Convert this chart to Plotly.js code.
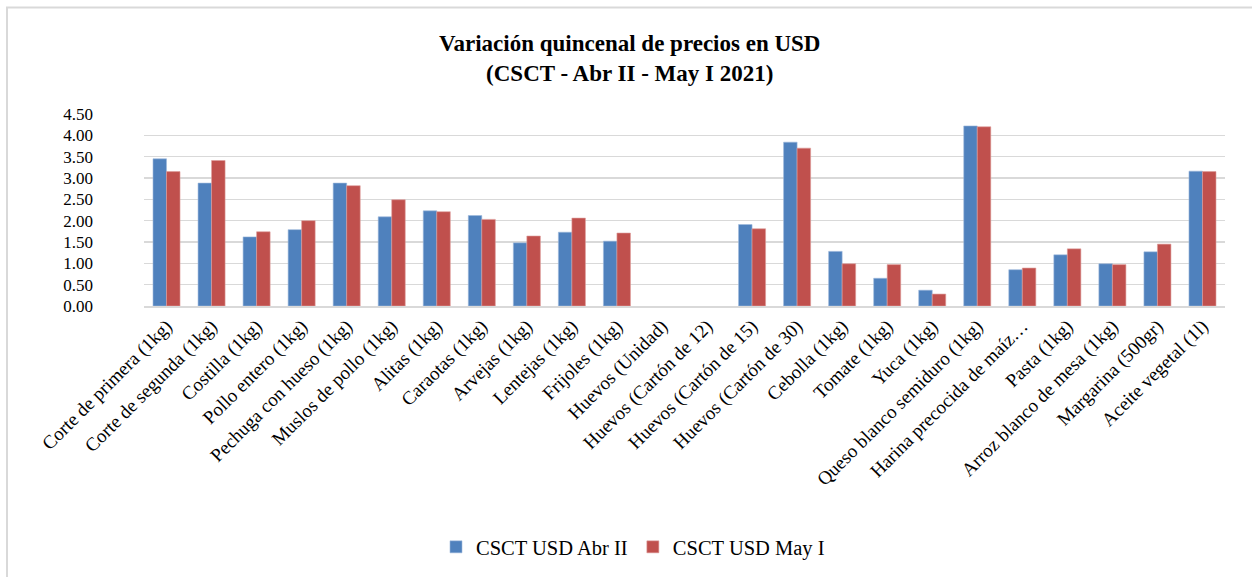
<!DOCTYPE html>
<html>
<head>
<meta charset="utf-8">
<script src="https://cdn.plot.ly/plotly-3.0.1.min.js"></script>
<style>html,body{margin:0;padding:0;background:#fff;overflow:hidden;}#chart{width:1252px;height:577px;}</style>
</head>
<body>
<div id="chart"></div>
<script>
const categories = [
  "Corte de primera (1kg)", "Corte de segunda (1kg)", "Costilla (1kg)", "Pollo entero (1kg)",
  "Pechuga con hueso (1kg)", "Muslos de pollo (1kg)", "Alitas (1kg)", "Caraotas (1kg)",
  "Arvejas (1kg)", "Lentejas (1kg)", "Frijoles (1kg)", "Huevos (Unidad)",
  "Huevos (Cartón de 12)", "Huevos (Cartón de 15)", "Huevos (Cartón de 30)", "Cebolla (1kg)",
  "Tomate (1kg)", "Yuca (1kg)", "Queso blanco semiduro (1kg)", "Harina precocida de maíz…",
  "Pasta (1kg)", "Arroz blanco de mesa (1kg)", "Margarina (500gr)", "Aceite vegetal (1l)"
];
const abrII = [3.45, 2.88, 1.62, 1.79, 2.88, 2.09, 2.23, 2.12, 1.48, 1.73, 1.52, null,
               null, 1.91, 3.84, 1.28, 0.65, 0.37, 4.22, 0.85, 1.20, 0.99, 1.27, 3.16];
const mayI  = [3.15, 3.41, 1.74, 2.00, 2.82, 2.49, 2.21, 2.03, 1.64, 2.06, 1.71, null,
               null, 1.81, 3.70, 0.99, 0.97, 0.28, 4.20, 0.89, 1.34, 0.97, 1.45, 3.15];
const seriesNames = ["CSCT USD Abr II", "CSCT USD May I"];
const yTicks = [0, 0.5, 1, 1.5, 2, 2.5, 3, 3.5, 4, 4.5];

const font = "Liberation Serif, Times New Roman, serif";
const L = 144, R = 27, T = 114, B = 270, W = 1252, H = 577;
const pw = W - L - R, ph = H - T - B;
const traces = [
  {type: "bar", name: seriesNames[0], x: categories, y: abrII, marker: {color: "#4F81BD", line: {color: "#9DB9DC", width: 0.6}}, hoverinfo: "x+y"},
  {type: "bar", name: seriesNames[1], x: categories, y: mayI, marker: {color: "#C0504D", line: {color: "#DE9C9A", width: 0.6}}, hoverinfo: "x+y"}
];
const layout = {
  width: W, height: H,
  margin: {l: L, r: R, t: T, b: B},
  paper_bgcolor: "#fff", plot_bgcolor: "#fff",
  font: {family: font, color: "#000", size: 17},
  title: {
    text: "<b>Variación quincenal de precios en USD<br>(CSCT - Abr II - May I 2021)</b>",
    x: 0.503, xanchor: "center", y: 1 - 51 / H, yanchor: "middle",
    font: {family: font, size: 23, color: "#000"}
  },
  barmode: "group", bargap: 0.40, bargroupgap: 0,
  xaxis: {
    type: "category", tickangle: -45, showgrid: false, zeroline: false,
    showline: true, linecolor: "#D9D9D9", linewidth: 1.5, ticks: "",
    tickfont: {family: font, size: 19, color: "#000"}, automargin: false
  },
  yaxis: {
    range: [0, 4.5], tickvals: yTicks, tickformat: ".2f",
    showgrid: true, gridcolor: "#D9D9D9", gridwidth: 1.5, zeroline: false,
    showline: false, ticks: "", ticklen: 0, ticklabelstandoff: 50,
    tickfont: {family: font, size: 17, color: "#000"}, automargin: false
  },
  legend: {
    orientation: "h", x: (633 - L) / pw, xanchor: "center", y: (307 - 547) / ph, yanchor: "middle",
    font: {family: font, size: 20.5, color: "#000"}, itemwidth: 30, tracegroupgap: 0,
    traceorder: "normal"
  },
  showlegend: true,
  shapes: [{
    type: "rect", xref: "paper", yref: "paper",
    x0: (7 - L) / pw, x1: (1300 - L) / pw,
    y0: (307 - 620) / ph, y1: (307 - 7) / ph,
    line: {color: "#D9D9D9", width: 2}, fillcolor: "rgba(0,0,0,0)", layer: "below"
  }]
};
Plotly.newPlot("chart", traces, layout, {displayModeBar: false, staticPlot: true});
</script>
</body>
</html>
